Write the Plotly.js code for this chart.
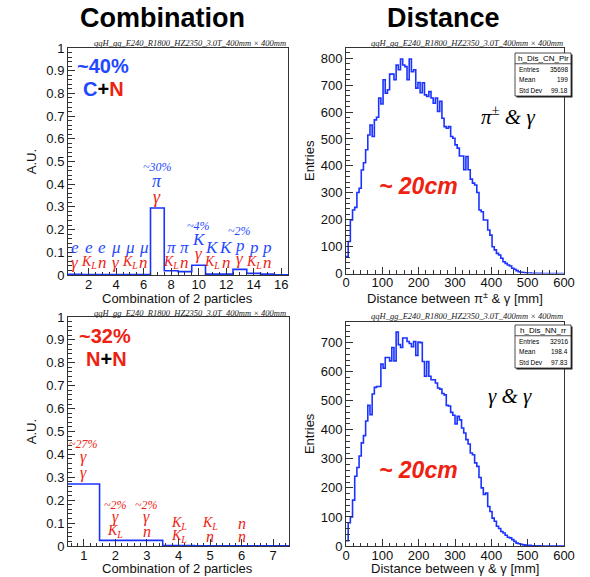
<!DOCTYPE html>
<html><head><meta charset="utf-8">
<script src="https://cdn.plot.ly/plotly-3.0.1.min.js"></script>
<style>html,body{margin:0;padding:0;background:#fff}#c{width:590px;height:577px}</style>
</head><body><div id="c"></div>
<script>
// ---------- DATA ----------
// Combination of 2 particles, charged + neutral (16 bins, 0.5..16.5)
const combCN = [0.003,0.002,0.002,0.002,0.002,0.002,0.295,0.019,0.015,0.043,0.004,0.004,0.025,0.007,0.004,0.001];
// Combination of 2 particles, neutral + neutral (7 bins, 0.5..7.5)
const combNN = [0.271,0.0246,0.0246,0.0015,0.001,0.001,0.0005];
// Distance between pi+- & gamma [mm], 100 bins 0..600
const distCN = [63,119,199,236,246,301,317,385,412,460,
  515,552,509,571,581,652,630,720,670,683,
  741,741,720,775,757,797,775,769,720,797,
  750,757,689,710,672,709,664,658,676,652,
  633,652,602,640,577,546,540,546,509,503,
  478,466,437,437,386,435,386,351,336,329,
  301,236,230,199,199,162,143,100,88,75,
  69,57,44,38,32,28,20,16,11,7,
  5,4,3,2,2,1,1,1,0,1,
  0,0,0,0,0,0,0,0,0,0];
// Distance between gamma & gamma [mm], 100 bins 0..600
const distNN = [18,80,100,158,240,270,310,355,380,430,
  484,452,523,546,549,549,626,612,649,649,
  637,683,637,736,693,683,716,716,704,697,
  686,704,656,702,700,635,584,635,584,572,
  572,561,544,540,525,520,484,482,460,450,
  420,446,434,406,389,366,351,320,314,286,
  274,236,200,177,182,136,119,96,85,68,
  60,50,45,37,30,28,22,16,10,8,
  6,4,3,2,2,1,1,0,1,0,
  0,0,0,0,0,0,0,0,0,0];
// Labels for the C+N bins
const cnUpperBins = [1,2,3,4,5,6,8,9,11,12,14,15];
const cnUpper = ['e','e','e','μ','μ','μ','π','π','K','K','p','p'];
const cnLower = ['γ','K<sub>L</sub>','n','γ','K<sub>L</sub>','n','K<sub>L</sub>','n','K<sub>L</sub>','n','K<sub>L</sub>','n'];
// Labels for the N+N bins
const nnFrac = ['~27%','~2%','~2%','','',''];
const nnFirst = ['γ','γ','γ','K<sub>L</sub>','K<sub>L</sub>','n'];
const nnSecond = ['γ','K<sub>L</sub>','n','K<sub>L</sub>','n','n'];
const statsCN = {name:'h_Dis_CN_Pir', entries:'35698', mean:'199', std:'99.18'};
const statsNN = {name:'h_Dis_NN_rr', entries:'32916', mean:'198.4', std:'97.83'};
const subTitle = 'qqH_gg_E240_R1800_HZ2350_3.0T_400mm × 400mm';
const xTitles = ['Combination of 2 particles','Distance between π<sup>±</sup> &amp; γ [mm]','Combination of 2 particles','Distance between γ &amp; γ [mm]'];

// ---------- HELPERS ----------
const W=590,H=577;
const px=x=>x/W, py=y=>1-y/H;
const SANS='Liberation Sans, Arial, Helvetica, sans-serif';
const SERIF='Liberation Serif, Times New Roman, serif';
const BLUE='#1f48ff', RED='#ee2211', HIST='#1a33ff';

function steps(vals, lo, width, xa, ya){
  const xs=[], ys=[];
  for(let i=0;i<vals.length;i++){xs.push(lo+i*width); ys.push(vals[i]);}
  xs.push(lo+vals.length*width); ys.push(vals[vals.length-1]);
  return {type:'scatter', mode:'lines', x:xs, y:ys, xaxis:xa, yaxis:ya,
    line:{shape:'hv', color:HIST, width:1.6}, hoverinfo:'skip'};
}
const traces=[
  steps(combCN,0.5,1,'x','y'),
  steps(distCN,0,6,'x2','y2'),
  steps(combNN,0.5,1,'x3','y3'),
  steps(distNN,0,6,'x4','y4')
];

const ann=[];
function A(text,x,y,size,color,o={}){
  ann.push(Object.assign({text, x:o.xref?x:px(x), y:py(y), xref:o.xref||'paper', yref:'paper',
    showarrow:false, xanchor:o.xanchor||'center', yanchor:'middle', borderpad:0,
    font:{family:o.family||SANS, size, color}},o.extra||{}));
}
// headers
A('<b>Combination</b>',162,18,27,'#000');
A('<b>Distance</b>',443,18,27,'#000');
// subtitles
A('<i>'+subTitle+'</i>',190,43,8.5,'#222',{family:SERIF});
A('<i>'+subTitle+'</i>',467,43,8.5,'#222',{family:SERIF});
A('<i>'+subTitle+'</i>',190,313,8.5,'#222',{family:SERIF});
A('<i>'+subTitle+'</i>',467,316,8.5,'#222',{family:SERIF});
// x-axis titles
A(xTitles[0],177,298,13,'#111');
A(xTitles[1],455,298,13,'#111');
A(xTitles[2],177,568,13,'#111');
A(xTitles[3],455,568,13,'#111');
// big labels
A('<b>~40%</b>',103,66,20,BLUE);
A('<b><span style="color:'+BLUE+'">C</span>+<span style="color:'+RED+'">N</span></b>',103,89,20,'#000');
A('<b>~32%</b>',105,336,20,RED);
A('<b><span style="color:'+RED+'">N</span>+<span style="color:'+RED+'">N</span></b>',106,359,20,'#000');
// C+N bin labels
const it=s=>'<i>'+s+'</i>';
cnUpperBins.forEach((b,i)=>{
  A(it(cnUpper[i]),b,248,17,BLUE,{xref:'x',family:SERIF});
  A(it(cnLower[i]),b,263,cnLower[i].length>2?14:17,RED,{xref:'x',family:SERIF});
});
A(it('~30%'),7,167,12,BLUE,{xref:'x',family:SERIF});
A(it('π'),7,181,18,BLUE,{xref:'x',family:SERIF});
A(it('γ'),7,197,18,RED,{xref:'x',family:SERIF});
A(it('~4%'),10,226,12,BLUE,{xref:'x',family:SERIF});
A(it('K'),10,239,17,BLUE,{xref:'x',family:SERIF});
A(it('γ'),10,253,17,RED,{xref:'x',family:SERIF});
A(it('~2%'),13,231,12,BLUE,{xref:'x',family:SERIF});
A(it('p'),13,246,17,BLUE,{xref:'x',family:SERIF});
A(it('γ'),13,258,17,RED,{xref:'x',family:SERIF});
// N+N bin labels
nnFirst.forEach((t,i)=>{
  const b=i+1;
  let yF, y1, y2;
  if(b===1){yF=444;y1=457;y2=473;}
  else if(b<=3){yF=505;y1=517;y2=531;}
  else {y1=523;y2=536;}
  if(nnFrac[i]) A(it(nnFrac[i]),b,yF,12,RED,{xref:'x3',family:SERIF});
  A(it(t),b,y1,t.length>2?14:16,RED,{xref:'x3',family:SERIF});
  A(it(nnSecond[i]),b,y2,nnSecond[i].length>2?14:16,RED,{xref:'x3',family:SERIF});
});
// distance labels
A(it('π<sup>±</sup> &amp; γ'),508,116,21,'#000',{family:SERIF});
A('<b><i>~ 20cm</i></b>',418,186,23,RED);
A(it('γ &amp; γ'),510,396,21,'#000',{family:SERIF});
A('<b><i>~ 20cm</i></b>',418,470,23,RED);

// stats boxes
const shapes=[];
function stats(s,x0,y0,x1,y1){
  shapes.push({type:'rect',xref:'paper',yref:'paper',x0:px(x0+1.5),x1:px(x1+1.5),y0:py(y0+1.5),y1:py(y1+1.5),line:{width:0},fillcolor:'#222'});
  shapes.push({type:'rect',xref:'paper',yref:'paper',x0:px(x0),x1:px(x1),y0:py(y0),y1:py(y1),line:{width:0.8,color:'#222'},fillcolor:'#fff'});
  const hh=(y1-y0)/4;
  shapes.push({type:'line',xref:'paper',yref:'paper',x0:px(x0),x1:px(x1),y0:py(y0+hh),y1:py(y0+hh),line:{width:0.8,color:'#222'}});
  A(s.name,(x0+x1)/2,y0+hh/2,8,'#000');
  const rows=[['Entries',s.entries],['Mean',s.mean],['Std Dev',s.std]];
  rows.forEach((r,i)=>{
    const yy=y0+hh*(1.5+i);
    A(r[0],x0+3,yy,6.5,'#000',{xanchor:'left'});
    A(r[1],x1-2,yy,6.5,'#000',{xanchor:'right'});
  });
}
stats(statsCN,515,53,571,96);
stats(statsNN,515,325,571,368);

const tf={family:SANS,size:13,color:'#111'};
const ttf={family:SANS,size:13,color:'#111'};
function ax(o){
  return Object.assign({showline:true,mirror:true,linecolor:'#333',linewidth:1,showgrid:false,zeroline:false,
    ticks:'inside',ticklen:7,tickcolor:'#333',tickfont:tf,fixedrange:true},o);
}
const xs={ticklabelstandoff:-3};
const layout={
  width:W,height:H,margin:{l:0,r:0,t:0,b:0},paper_bgcolor:'#fff',plot_bgcolor:'#fff',showlegend:false,
  xaxis:ax(Object.assign({domain:[px(68),px(288)],range:[0.5,16.5],anchor:'y',tick0:0,dtick:2,
    minor:{ticks:'inside',dtick:0.5,ticklen:3.5,tickcolor:'#333'}},xs)),
  yaxis:ax({domain:[py(275),py(48)],range:[0,1],anchor:'x',dtick:0.1,
    minor:{ticks:'inside',dtick:0.02,ticklen:3.5,tickcolor:'#333'},
    title:{text:'A.U.',font:ttf,standoff:6}}),
  xaxis2:ax(Object.assign({domain:[px(346),px(564)],range:[0,600],anchor:'y2',dtick:100,
    minor:{ticks:'inside',dtick:20,ticklen:3.5,tickcolor:'#333'}},xs)),
  yaxis2:ax({domain:[py(273.6),py(48)],range:[0,838],anchor:'x2',dtick:100,
    minor:{ticks:'inside',dtick:20,ticklen:3.5,tickcolor:'#333'},
    title:{text:'Entries',font:ttf,standoff:3}}),
  xaxis3:ax(Object.assign({domain:[px(68),px(289)],range:[0.5,7.5],anchor:'y3',tick0:0,dtick:1,
    minor:{ticks:'inside',dtick:0.2,ticklen:3.5,tickcolor:'#333'}},xs)),
  yaxis3:ax({domain:[py(546),py(317)],range:[0,1],anchor:'x3',dtick:0.1,
    minor:{ticks:'inside',dtick:0.02,ticklen:3.5,tickcolor:'#333'},
    title:{text:'A.U.',font:ttf,standoff:6}}),
  xaxis4:ax(Object.assign({domain:[px(346),px(564)],range:[0,600],anchor:'y4',dtick:100,
    minor:{ticks:'inside',dtick:20,ticklen:3.5,tickcolor:'#333'}},xs)),
  yaxis4:ax({domain:[py(546),py(321.7)],range:[0,772],anchor:'x4',dtick:100,
    minor:{ticks:'inside',dtick:20,ticklen:3.5,tickcolor:'#333'},
    title:{text:'Entries',font:ttf,standoff:3}}),
  annotations:ann, shapes:shapes
};
Plotly.newPlot('c',traces,layout,{staticPlot:true,displayModeBar:false});
</script></body></html>
